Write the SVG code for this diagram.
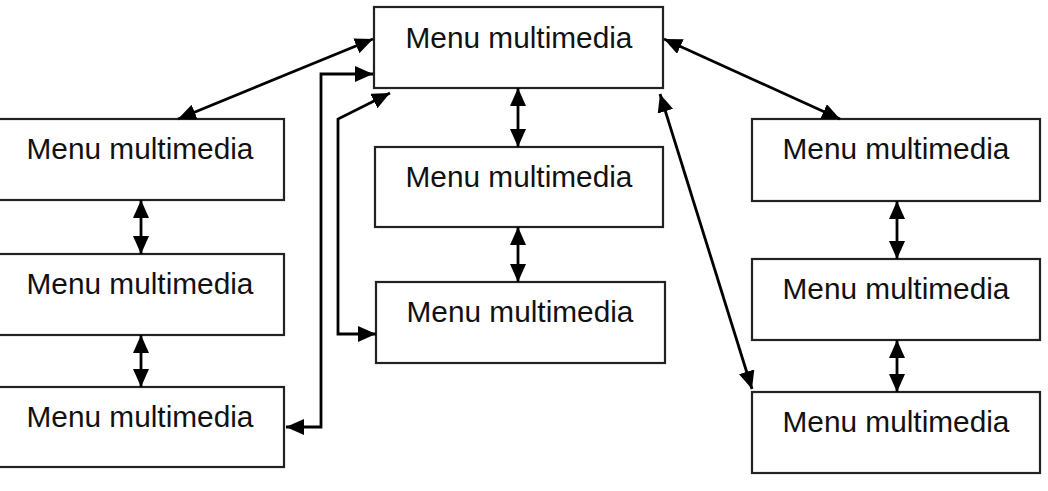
<svg xmlns="http://www.w3.org/2000/svg" width="1048" height="491" viewBox="0 0 1048 491">
<style>
.box{fill:#fff;stroke:#222;stroke-width:2.2}
.lbl{font-family:"Liberation Sans",Arial,sans-serif;font-size:29.8px;fill:#111;text-anchor:middle}
.con{fill:none;stroke:#000;stroke-width:2.8;marker-start:url(#ah);marker-end:url(#ah)}
</style>
<defs>
<marker id="ah" markerUnits="userSpaceOnUse" markerWidth="20" markerHeight="18" refX="18" refY="8" orient="auto-start-reverse">
<path d="M0,0 L18,8 L0,16 z" fill="#000"/>
</marker>
</defs>
<rect width="1048" height="491" fill="#fff"/>
<g id="n-top"><rect class="box" x="374" y="7" width="289" height="81"/><text class="lbl" x="519" y="48">Menu multimedia</text></g>
<g id="n-l1"><rect class="box" x="-2" y="119" width="286" height="81"/><text class="lbl" x="140" y="159">Menu multimedia</text></g>
<g id="n-l2"><rect class="box" x="-2" y="254" width="286" height="81"/><text class="lbl" x="140" y="294">Menu multimedia</text></g>
<g id="n-l3"><rect class="box" x="-2" y="387" width="286" height="80"/><text class="lbl" x="140" y="427">Menu multimedia</text></g>
<g id="n-c2"><rect class="box" x="375" y="147" width="288" height="80"/><text class="lbl" x="519" y="187">Menu multimedia</text></g>
<g id="n-c3"><rect class="box" x="376" y="282" width="289" height="81"/><text class="lbl" x="520" y="322">Menu multimedia</text></g>
<g id="n-r1"><rect class="box" x="752" y="119" width="288" height="82"/><text class="lbl" x="896" y="159">Menu multimedia</text></g>
<g id="n-r2"><rect class="box" x="752" y="259" width="288" height="81"/><text class="lbl" x="896" y="299">Menu multimedia</text></g>
<g id="n-r3"><rect class="box" x="752" y="392" width="288" height="81"/><text class="lbl" x="896" y="432">Menu multimedia</text></g>
<g id="connectors">
<path class="con" d="M178,119 L373,39"/>
<path class="con" d="M286,427 L321,427 L321,74 L373,74"/>
<path class="con" d="M390,93 L338,119 L338,334 L376,334"/>
<path class="con" d="M664,39 L840,119"/>
<path class="con" d="M660,94 L752,389"/>
<path class="con" d="M141,200 L141,254"/>
<path class="con" d="M141,335 L141,387"/>
<path class="con" d="M518,88 L518,147"/>
<path class="con" d="M518,227 L518,282"/>
<path class="con" d="M897,201 L897,259"/>
<path class="con" d="M897,340 L897,392"/>
</g>
</svg>
